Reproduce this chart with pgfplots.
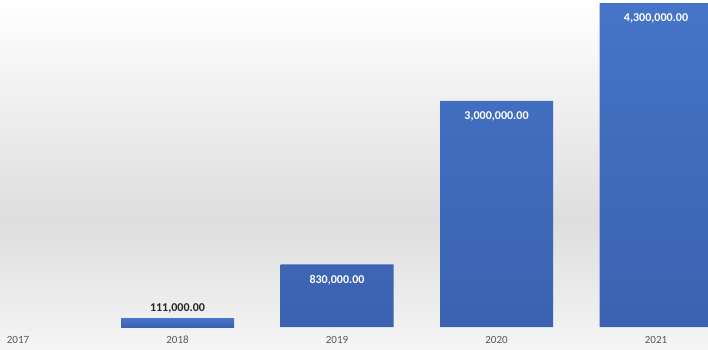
\documentclass[border=0pt]{standalone}
\usepackage{fontspec}
\setmainfont{Carlito}
\usepackage{pgfplots}
\pgfplotsset{compat=1.18}
\definecolor{barTop}{HTML}{4674C8}
\definecolor{barBot}{HTML}{3A62B0}
\definecolor{tickgray}{HTML}{595959}
\begin{document}
\begin{tikzpicture}[x=1pt,y=1pt]
\shade[top color=white, bottom color=black!13] (0,107) rectangle (708,327);
\shade[top color=black!13, bottom color=black!4] (0,-22) rectangle (708,107);
\begin{axis}[
  at={(0,0)}, anchor=south west,
  scale only axis, width=708pt, height=327pt,
  xmin=-0.113, xmax=4.326, ymin=0, ymax=4.34e6,
  axis line style={draw=none}, major tick style={draw=none},
  ytick=\empty,
  xtick={0,1,2,3,4},
  xticklabels={2017,2018,2019,2020,2021},
  xticklabel style={anchor=center, yshift=-9pt, font=\fontsize{11}{13}\selectfont, text=tickgray},
  ybar, bar width=113pt,
  nodes near coords={\pgfmathprintnumber[fixed,fixed zerofill,precision=2,1000 sep={,},assume math mode=true]{\pgfplotspointmeta}},
  point meta=y,
]
\addplot[bar shift=0pt, draw=none, top color=barTop, bottom color=barBot,
  nodes near coords style={font=\bfseries\fontsize{12}{14}\selectfont, text=black!85, anchor=south, yshift=2pt}]
  coordinates {(1,111000)};
\addplot[bar shift=0pt, draw=none, top color=barTop, bottom color=barBot,
  nodes near coords style={font=\bfseries\fontsize{12}{14}\selectfont, text=white, anchor=north, yshift=-7pt}]
  coordinates {(2,830000) (3,3000000) (4,4300000)};
\end{axis}
\pgfresetboundingbox
\useasboundingbox (0,-22) rectangle (708,327);
\end{tikzpicture}
\end{document}
